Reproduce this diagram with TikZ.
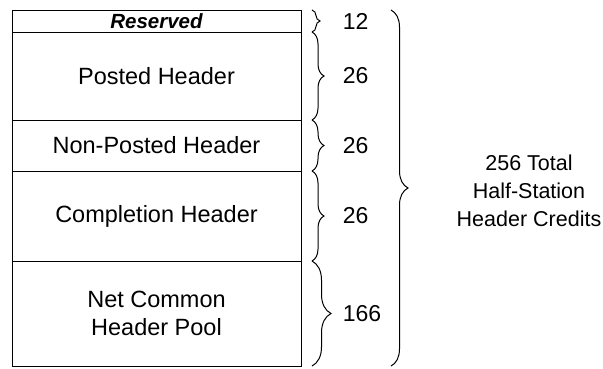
\documentclass[tikz,border=0pt]{standalone}
\usepackage{fontspec}
\setmainfont{Liberation Sans}
\usetikzlibrary{positioning,decorations.pathreplacing}

\begin{document}
\begin{tikzpicture}[line width=1pt,
	slot/.style={draw,rectangle,inner sep=0pt,outer sep=0pt,align=center,
		minimum width=289pt, font=\fontsize{23.5}{28}\selectfont},
	tally/.style={decorate,decoration={brace,amplitude=#1}},
	tally/.default=12pt,
	credit/.style={anchor=west,font=\fontsize{23}{28}\selectfont}]

    \useasboundingbox (0,0) rectangle (603pt,-368pt);

    \node[slot, minimum height=22pt, anchor=north west,
    	font=\fontsize{20.5}{22}\selectfont\bfseries\itshape] (res) at (12pt,-10pt) {Reserved};
    \node[slot, minimum height=88pt] (post) [below=0pt of res] {Posted Header};
    \node[slot, minimum height=51pt] (npost) [below=0pt of post] {Non-Posted Header};
    \node[slot, minimum height=90pt] (cpl) [below=0pt of npost] {Completion Header};
    \node[slot, minimum height=105pt] (pool) [below=0pt of cpl] {Net Common\\Header Pool};

	% per-class credits
	\draw[tally=8pt] ([xshift=11pt]res.north east) -- ([xshift=11pt]res.south east)
		node[credit,midway,xshift=27pt] {12};
	\draw[tally] ([xshift=11pt]post.north east) -- ([xshift=11pt]post.south east)
		node[credit,midway,xshift=27pt] {26};
	\draw[tally] ([xshift=11pt]npost.north east) -- ([xshift=11pt]npost.south east)
		node[credit,midway,xshift=27pt] {26};
	\draw[tally] ([xshift=11pt]cpl.north east) -- ([xshift=11pt]cpl.south east)
		node[credit,midway,xshift=27pt] {26};
	\draw[tally=19pt] ([xshift=11pt]pool.north east) -- ([xshift=11pt]pool.south east)
		node[credit,midway,xshift=27pt] {166};

	% total
	\draw[tally=17pt] ([xshift=90pt]res.north east) -- ([xshift=90pt]pool.south east)
		node[midway,xshift=138pt,yshift=-3pt,align=center,font=\fontsize{21.5}{28}\selectfont]
		{256 Total\\Half-Station\\Header Credits};

\end{tikzpicture}
\end{document}
